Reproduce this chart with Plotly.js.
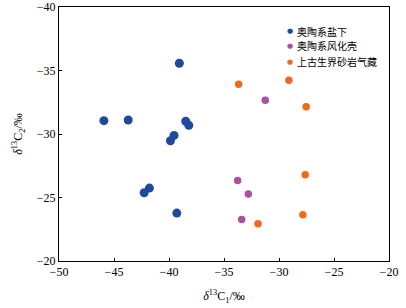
<!DOCTYPE html>
<html><head><meta charset="utf-8">
<script src="https://cdn.plot.ly/plotly-3.0.1.min.js"></script>
<style>html,body{margin:0;padding:0;background:#fff;}#c{width:406px;height:308px;}</style>
</head><body><div id="c"></div>
<script>
const seriesNames = ['奥陶系盐下', '奥陶系风化壳', '上古生界砂岩气藏'];
const blueX = [-39.06, -45.92, -43.71, -38.48, -38.2, -39.54, -39.87, -41.78, -42.26, -39.29];
const blueY = [-35.57, -31.05, -31.1, -31.0, -30.68, -29.89, -29.47, -25.74, -25.37, -23.77];
const purpleX = [-31.25, -33.76, -32.79, -33.39];
const purpleY = [-32.65, -26.34, -25.27, -23.27];
const orangeX = [-33.67, -29.1, -27.53, -27.62, -27.83, -31.91];
const orangeY = [-33.91, -34.23, -32.15, -26.79, -23.64, -22.93];
const xTicks = [-50, -45, -40, -35, -30, -25, -20];
const yTicks = [-40, -35, -30, -25, -20];

const colors = ['#1f4a9c', '#a9529f', '#f06a1e'];
const sizes = [9, 7.5, 7.5];
const xs = [blueX, purpleX, orangeX];
const ys = [blueY, purpleY, orangeY];

const traces = [];
for (let i = 0; i < 3; i++) {
  traces.push({x: xs[i], y: ys[i], mode: 'markers', type: 'scatter', name: seriesNames[i], showlegend: false,
    marker: {color: colors[i], size: sizes[i]}});
}

// legend drawn as annotations (paper coords)
const legX = 0.699, legTextX = 0.715;
const legY = [0.905, 0.848, 0.785];
const annotations = [];
for (let i = 0; i < 3; i++) {
  annotations.push({xref: 'paper', yref: 'paper', x: legX, y: legY[i], xanchor: 'center', yanchor: 'middle',
    text: '●', showarrow: false, font: {family: 'DejaVu Sans', size: 7, color: colors[i]}});
  annotations.push({xref: 'paper', yref: 'paper', x: legTextX, y: legY[i], xanchor: 'left', yanchor: 'middle',
    text: seriesNames[i], showarrow: false, font: {family: 'Noto Sans CJK SC', size: 10, color: '#000'}});
}

const tickFont = {family: 'Liberation Serif, Times New Roman, serif', size: 12, color: '#000'};
const layout = {
  width: 406, height: 308,
  margin: {l: 59, r: 17, t: 7, b: 47},
  paper_bgcolor: '#fff', plot_bgcolor: '#fff',
  showlegend: false,
  annotations: annotations,
  xaxis: {range: [-50, -20], tickvals: xTicks, ticks: 'inside', ticklen: 3, tickcolor: '#000',
    showline: true, linecolor: '#000', linewidth: 1, mirror: true, showgrid: false, zeroline: false,
    tickfont: tickFont,
    title: {text: '<i>δ</i><sup>13</sup>C<sub>1</sub>/‰', font: tickFont, standoff: 13}},
  yaxis: {range: [-20, -40], tickvals: yTicks, ticks: 'inside', ticklen: 3, tickcolor: '#000',
    showline: true, linecolor: '#000', linewidth: 1, mirror: true, showgrid: false, zeroline: false,
    tickfont: tickFont,
    title: {text: '<i>δ</i><sup>13</sup>C<sub>2</sub>/‰', font: tickFont, standoff: 11}}
};
Plotly.newPlot('c', traces, layout, {displayModeBar: false, staticPlot: true});
</script></body></html>
